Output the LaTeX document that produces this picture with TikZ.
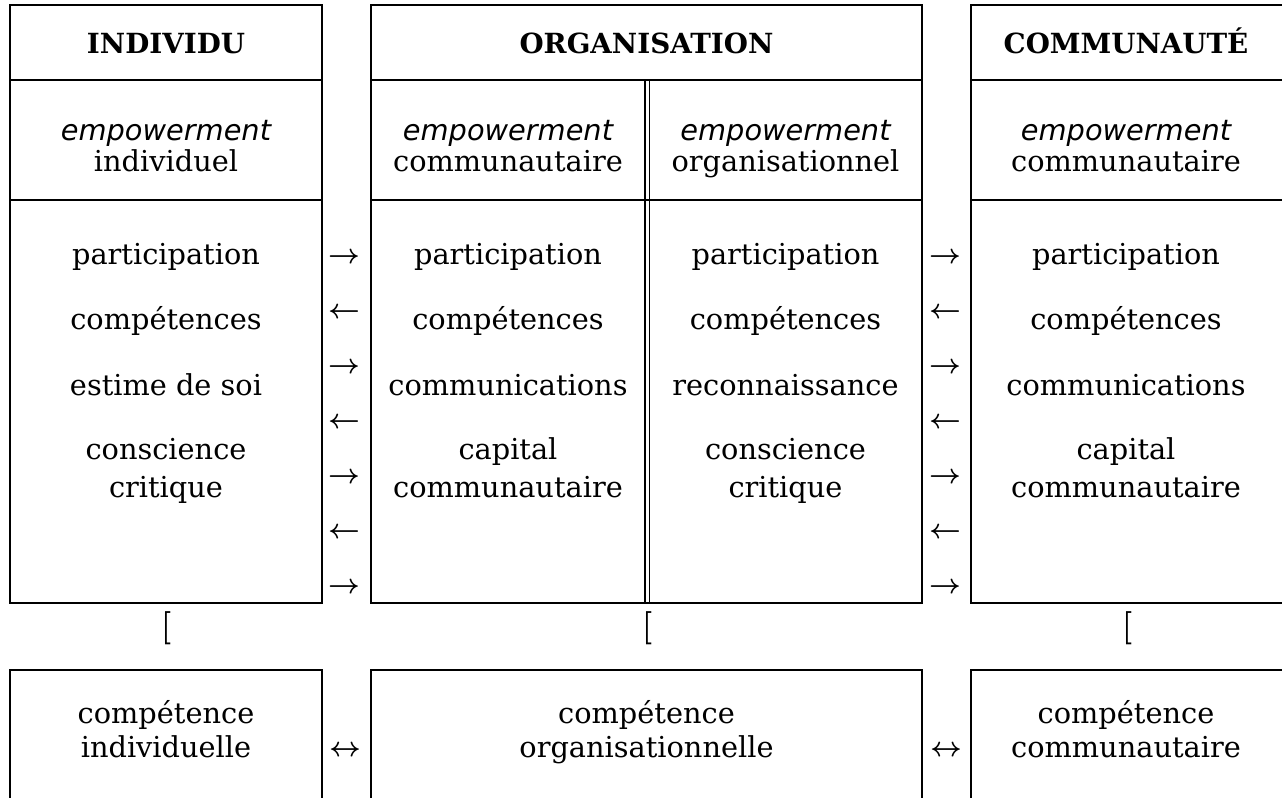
\documentclass[tikz,border=0pt]{standalone}
\usepackage{fontspec}
\setmainfont{DejaVu Serif}
\newfontfamily\empfont{DejaVu Sans}
\begin{document}
\begin{tikzpicture}[x=0.75pt,y=-0.75pt,line width=1.9pt,
  hdr/.style={anchor=base,inner sep=0pt,font=\fontsize{20.8}{24}\selectfont\bfseries},
  txt/.style={anchor=base,inner sep=0pt,align=center,font=\fontsize{21.6}{28.5}\selectfont},
  sub/.style={anchor=base,inner sep=0pt,align=center,font=\fontsize{21.6}{23.25}\selectfont},
  bot/.style={anchor=base,inner sep=0pt,align=center,font=\fontsize{21.6}{25.5}\selectfont},
  arr/.style={inner sep=0pt,font=\fontsize{19.6}{24}\selectfont\boldmath},
  dbl/.style={inner sep=0pt,font=\fontsize{21.5}{26}\selectfont\boldmath},
  brk/.style={inner sep=0pt,font=\fontsize{25}{30}\selectfont\boldmath}]
\useasboundingbox (0,0) rectangle (1282,797);
\clip (0,0) rectangle (1282,797);
% top boxes
\draw (10,5) rectangle (322,603);
\draw (10,80) -- (322,80);
\draw (10,200) -- (322,200);
\draw (371,5) rectangle (922,603);
\draw (371,80) -- (922,80);
\draw (371,200) -- (922,200);
\draw[line width=1.2pt] (645,80) -- (645,603);
\draw[line width=1.2pt] (649.5,80) -- (649.5,603);
\draw (971,5) rectangle (1310,603);
\draw (971,80) -- (1310,80);
\draw (971,200) -- (1310,200);
% bottom boxes
\draw (10,670) rectangle (322,820);
\draw (371,670) rectangle (922,820);
\draw (971,670) rectangle (1310,820);
% headers
\node[hdr] (hA) at (166,53) {INDIVIDU};
\node[hdr] (hB) at (646.5,53) {ORGANISATION};
\node[hdr] (hC) at (1126,53) {COMMUNAUTÉ};
% sub headers (anchored at last line baseline)
\node[sub] (sA) at (166,171) {{\empfont\itshape empowerment}\\individuel};
\node[sub] (sB1) at (508,171) {{\empfont\itshape empowerment}\\communautaire};
\node[sub] (sB2) at (785.5,171) {{\empfont\itshape empowerment}\\organisationnel};
\node[sub] (sC) at (1126,171) {{\empfont\itshape empowerment}\\communautaire};
% lists
\node[txt] (a1) at (166,264) {participation};
\node[txt] (a2) at (166,329) {compétences};
\node[txt] (a3) at (166,395) {estime de soi};
\node[txt] (a4) at (166,497) {conscience\\critique};
\node[txt] (b1) at (508,264) {participation};
\node[txt] (b2) at (508,329) {compétences};
\node[txt] (b3) at (508,395) {communications};
\node[txt] (b4) at (508,497) {capital\\communautaire};
\node[txt] (c1) at (785.5,264) {participation};
\node[txt] (c2) at (785.5,329) {compétences};
\node[txt] (c3) at (785.5,395) {reconnaissance};
\node[txt] (c4) at (785.5,497) {conscience\\critique};
\node[txt] (d1) at (1126,264) {participation};
\node[txt] (d2) at (1126,329) {compétences};
\node[txt] (d3) at (1126,395) {communications};
\node[txt] (d4) at (1126,497) {capital\\communautaire};
% arrows between columns
\foreach \xx/\nm in {344/L,945/R}{
  \node[arr] (\nm1) at (\xx,258) {$\rightarrow$};
  \node[arr] (\nm2) at (\xx,313) {$\leftarrow$};
  \node[arr] (\nm3) at (\xx,368) {$\rightarrow$};
  \node[arr] (\nm4) at (\xx,423) {$\leftarrow$};
  \node[arr] (\nm5) at (\xx,478) {$\rightarrow$};
  \node[arr] (\nm6) at (\xx,533) {$\leftarrow$};
  \node[arr] (\nm7) at (\xx,588) {$\rightarrow$};
}
% brackets
\node[brk] (k1) at (166,628) {$\lbrack$};
\node[brk] (k2) at (647,628) {$\lbrack$};
\node[brk] (k3) at (1127,628) {$\lbrack$};
% bottom texts
\node[bot] (e1) at (166,757) {compétence\\individuelle};
\node[bot] (e2) at (646.5,757) {compétence\\organisationnelle};
\node[bot] (e3) at (1126,757) {compétence\\communautaire};
\node[dbl] (m1) at (345,751) {$\leftrightarrow$};
\node[dbl] (m2) at (946,751) {$\leftrightarrow$};
\end{tikzpicture}
\end{document}
